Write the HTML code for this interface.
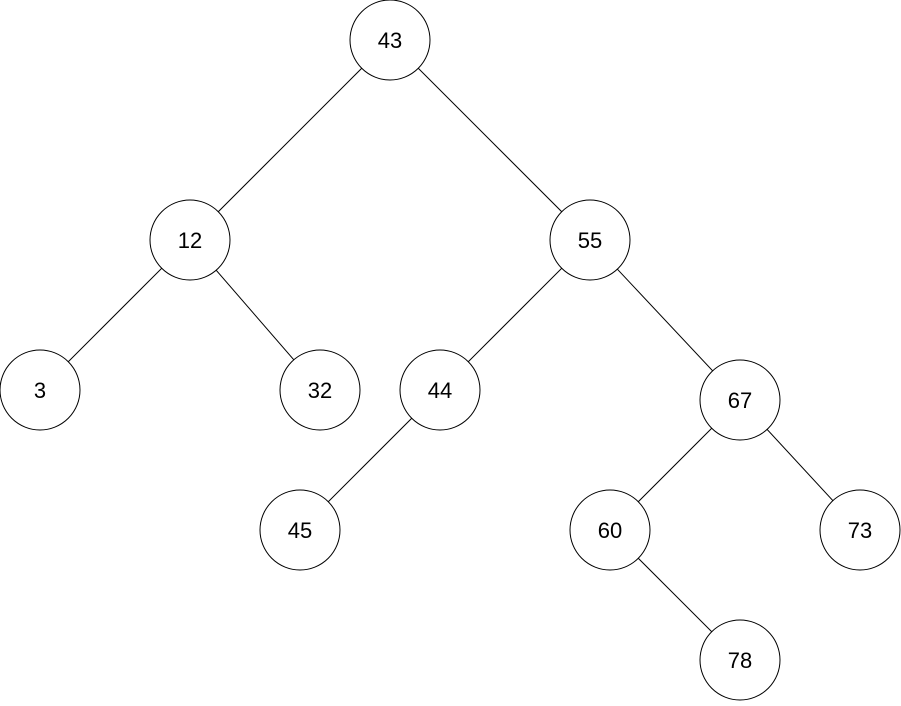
<!DOCTYPE html>
<html><head><meta charset="utf-8"><style>html,body{margin:0;padding:0;background:#fff}</style></head>
<body>
<svg width="901" height="701" viewBox="0 0 901 701" xmlns="http://www.w3.org/2000/svg">
<g stroke="#000" stroke-width="1">
<line x1="390" y1="40" x2="190" y2="240"/>
<line x1="390" y1="40" x2="590" y2="240"/>
<line x1="190" y1="240" x2="40" y2="390"/>
<line x1="190" y1="240" x2="320" y2="390"/>
<line x1="590" y1="240" x2="440" y2="390"/>
<line x1="590" y1="240" x2="740" y2="400"/>
<line x1="440" y1="390" x2="300" y2="530"/>
<line x1="740" y1="400" x2="610" y2="530"/>
<line x1="740" y1="400" x2="860" y2="530"/>
<line x1="610" y1="530" x2="740" y2="660"/>
</g>
<g fill="#fff" stroke="#000" stroke-width="1">
<circle cx="390" cy="40" r="40"/>
<circle cx="190" cy="240" r="40"/>
<circle cx="590" cy="240" r="40"/>
<circle cx="40" cy="390" r="40"/>
<circle cx="320" cy="390" r="40"/>
<circle cx="440" cy="390" r="40"/>
<circle cx="740" cy="400" r="40"/>
<circle cx="300" cy="530" r="40"/>
<circle cx="610" cy="530" r="40"/>
<circle cx="860" cy="530" r="40"/>
<circle cx="740" cy="660" r="40"/>
</g>
<g style="font-family:'Liberation Sans',sans-serif;font-size:22px" text-anchor="middle" fill="#000">
<text x="390" y="48">43</text>
<text x="190" y="248">12</text>
<text x="590" y="248">55</text>
<text x="40" y="398">3</text>
<text x="320" y="398">32</text>
<text x="440" y="398">44</text>
<text x="740" y="408">67</text>
<text x="300" y="538">45</text>
<text x="610" y="538">60</text>
<text x="860" y="538">73</text>
<text x="740" y="668">78</text>
</g>
</svg>
</body></html>
